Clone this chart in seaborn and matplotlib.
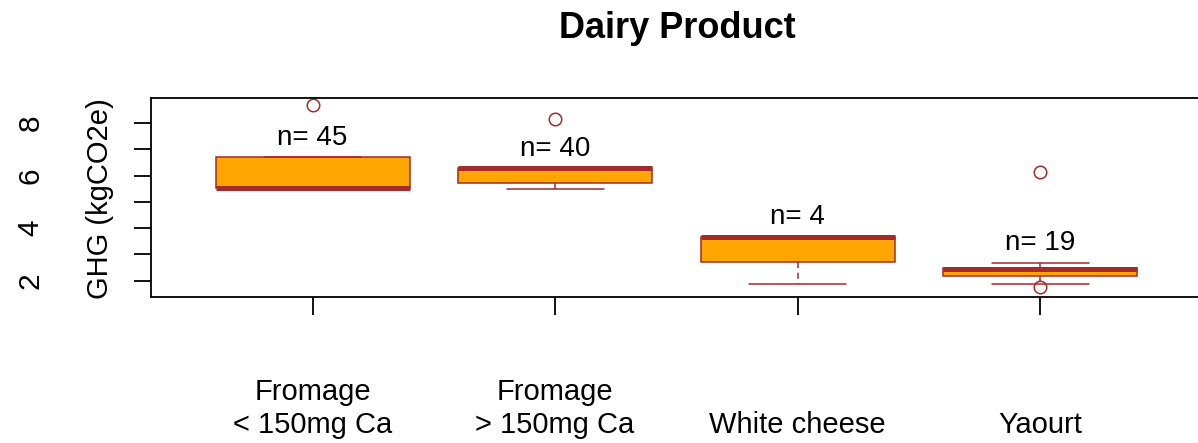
import matplotlib
matplotlib.use("Agg")
import matplotlib.pyplot as plt
import seaborn as sns

# Box statistics (GHG, kgCO2e)
categories = ["Fromage\n< 150mg Ca", "Fromage\n> 150mg Ca", "White cheese", "Yaourt"]
counts = [45, 40, 4, 19]
whisker_low = [5.52, 5.50, 1.89, 1.89]
q1 = [5.52, 5.72, 2.73, 2.16]
median = [5.52, 6.27, 3.66, 2.43]
q3 = [6.70, 6.27, 3.66, 2.47]
whisker_high = [6.70, 6.27, 3.66, 2.67]
outliers = [[8.70], [8.16], [], [6.12, 1.76]]
y_ticks = [2, 3, 4, 5, 6, 7, 8]
y_tick_labels = ["2", "", "4", "", "6", "", "8"]

# Style
sns.set_theme(style="ticks")
plt.rcParams["font.family"] = ["Liberation Sans", "DejaVu Sans"]
plt.rcParams["text.color"] = "black"
plt.rcParams["axes.labelcolor"] = "black"
fill = "#FFA500"
edge = "#A52A2A"

fig = plt.figure(figsize=(11.98, 4.43), dpi=100)
ax = fig.add_axes([151 / 1198, 146 / 443, 1061 / 1198, 199 / 443])

# Build the stats table for the boxes
stats = []
for i in range(len(categories)):
    stats.append(dict(label=categories[i], whislo=whisker_low[i], q1=q1[i], med=median[i],
                      q3=q3[i], whishi=whisker_high[i], fliers=outliers[i]))

ax.bxp(stats, positions=range(len(categories)), widths=0.8, capwidths=0.4, patch_artist=True,
       boxprops=dict(facecolor=fill, edgecolor=edge, linewidth=1.1),
       medianprops=dict(color=edge, linewidth=3.6, solid_capstyle="butt"),
       whiskerprops=dict(color=edge, linewidth=1.1, linestyle=(0, (4, 3))),
       capprops=dict(color=edge, linewidth=1.1),
       flierprops=dict(marker="o", markerfacecolor="none", markeredgecolor=edge,
                       markersize=9, markeredgewidth=1.1))

# Sample sizes above each box
for i in range(len(categories)):
    ax.text(i, whisker_high[i] + 0.48, f"n= {counts[i]}", ha="center", va="baseline",
            fontsize=20, color="black")

# Axes
ax.set_xlim(-0.666, 3.709)
ax.set_ylim(1.380, 8.951)
ax.set_xticks(range(len(categories)))
ax.set_xticklabels(categories, va="bottom", fontsize=21, linespacing=1.2)
ax.set_yticks(y_ticks)
ax.set_yticklabels(y_tick_labels, rotation=90, va="center", ha="right", fontsize=21.5)
ax.tick_params(axis="x", length=13, width=1.3, pad=89, colors="black")
ax.tick_params(axis="y", length=12.5, width=1.3, pad=64, colors="black")
for s in ax.spines.values():
    s.set_linewidth(1.3)
    s.set_color("black")

fig.text(100 / 1198, 1 - 199 / 443, "GHG (kgCO2e)", rotation=90, ha="center", va="center",
         fontsize=21, color="black")
fig.text(677 / 1198, 1 - 38.3 / 443, "Dairy Product", ha="center", va="baseline",
         fontsize=26, fontweight="bold", color="black")

fig.savefig("out.png", dpi=100)
